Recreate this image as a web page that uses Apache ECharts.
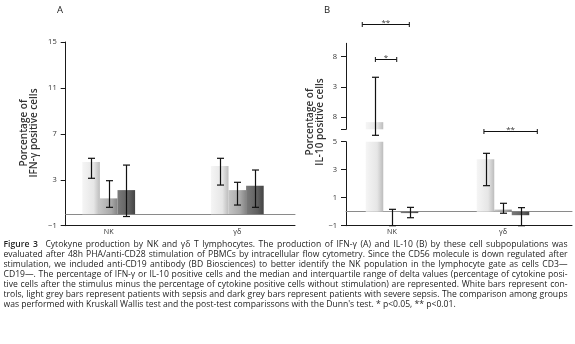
<!DOCTYPE html>
<html>
<head>
<meta charset="utf-8">
<script src="https://cdn.jsdelivr.net/npm/echarts@6.0.0/dist/echarts.min.js"></script>
<style>
  html, body { margin: 0; padding: 0; background: #fff; }
  #chart { position: absolute; left: 0; top: 0; width: 575px; height: 240px; }
  #caption { position: absolute; left: 3.5px; top: 239px; width: 564px;
    font-family: 'Open Sans', sans-serif; font-size: 8.6px; line-height: 10px; color: #1e1e1e; }
  #caption div { text-align: justify; text-align-last: justify; height: 10px; overflow: hidden; }
  #caption div.last { text-align-last: left; }
  #caption b { font-weight: 600; margin-right: 4px; }
</style>
</head>
<body>
<div id="chart"></div>
<div id="caption">
  <div><b>Figure 3</b> Cytokyne production by NK and γδ T lymphocytes. The production of IFN-γ (A) and IL-10 (B) by these cell subpopulations was</div>
  <div>evaluated after 48h PHA/anti-CD28 stimulation of PBMCs by intracellular flow cytometry. Since the CD56 molecule is down regulated after</div>
  <div>stimulation, we included anti-CD19 antibody (BD Biosciences) to better identify the NK population in the lymphocyte gate as cells CD3—</div>
  <div>CD19—. The percentage of IFN-γ or IL-10 positive cells and the median and interquartile range of delta values (percentage of cytokine posi-</div>
  <div>tive cells after the stimulus minus the percentage of cytokine positive cells without stimulation) are represented. White bars represent con-</div>
  <div>trols, light grey bars represent patients with sepsis and dark grey bars represent patients with severe sepsis. The comparison among groups</div>
  <div class="last">was performed with Kruskall Wallis test and the post-test comparissons with the Dunn's test. * p&lt;0.05, ** p&lt;0.01.</div>
</div>
<script>
// ---------- data ----------
const categories = ['NK', 'γδ'];

// Panel A: IFN-γ
const ifnControl = [4.55, 4.2];
const ifnSepsis = [1.38, 2.1];
const ifnSevere = [2.1, 2.48];
const ifnControlIQR = [[3.13, 4.87], [2.54, 4.87]];
const ifnSepsisIQR = [[0.6, 2.92], [0.8, 2.78]];
const ifnSevereIQR = [[-0.2, 4.28], [0.6, 3.85]];
const ifnTickValues = [-1, 3, 7, 11, 15];

// Panel B: IL-10 (broken axis)
const il10Control = [7.2, 3.75];
const il10Sepsis = [0.03, 0.15];
const il10Severe = [-0.1, -0.25];
const il10ControlIQR = [[5.03, 14.6], [1.86, 4.17]];
const il10SepsisIQR = [[-1.0, 0.17], [-0.11, 0.6]];
const il10SevereIQR = [[-0.43, 0.31], [-1.0, 0.29]];
const il10LowerTickValues = [-1, 1, 3, 5];
const il10UpperTickValues = [8, 13, 18];
const il10UpperTickLabels = ['8', '3', '8'];
const il10LowerRange = [-1, 5];
const il10UpperRange = [6.02, 20.2];

// significance brackets (from/to in bar slots relative to group centre)
const bracketCats = ['NK', 'NK', 'γδ'];
const bracketValues = [23.37, 17.56, 5.79];
const bracketFrom = [-1.7, -0.95, -1.09];
const bracketTo = [0.99, 0.27, 1.96];
const bracketText = ['**', '*', '**'];
const bracketSegment = ['upper', 'upper', 'lower'];

// ---------- styles ----------
const FONT = "'Open Sans', sans-serif";
const BW_A = 17.6, BW_B = 17.5;
function grad(stops) {
  return new echarts.graphic.LinearGradient(0, 0, 1, 0,
    stops.map((c, i) => ({ offset: [0, 0.65, 1][i], color: c })));
}
const colControl = grad(['#f5f5f5', '#e6e6e6', '#bcbcbc']);
const colSepsis = grad(['#c4c4c4', '#a9a9a9', '#858585']);
const colSevere = grad(['#7a7a7a', '#5f5f5f', '#434343']);
const minus = v => String(v).replace('-', '\u2212');

const chart = echarts.init(document.getElementById('chart'));

function frameX(gridIndex, showLine) {
  return { type: 'value', gridIndex, min: 0, max: 1, show: showLine,
    axisLine: { show: true, onZero: false, lineStyle: { color: '#1a1a1a', width: 1 } },
    axisTick: { show: false }, axisLabel: { show: false }, splitLine: { show: false } };
}
function zeroX(gridIndex) {
  return { type: 'value', gridIndex, min: 0, max: 1, position: 'bottom',
    axisLine: { show: true, onZero: true, lineStyle: { color: '#8a8a8a', width: 1 } },
    axisTick: { show: false }, axisLabel: { show: false }, splitLine: { show: false } };
}
function dataX(gridIndex, showLabels) {
  return { type: 'category', gridIndex, data: categories, show: showLabels,
    axisLine: { show: false }, axisTick: { show: false },
    axisLabel: { show: true, margin: 3, fontSize: 7.2, color: '#333', fontFamily: FONT },
    splitLine: { show: false } };
}
function frameY(gridIndex, range, tickVals, labelVals, fmt) {
  return { type: 'value', gridIndex, min: range[0], max: range[1],
    axisLine: { show: true, onZero: false, lineStyle: { color: '#1a1a1a', width: 1 } },
    axisTick: { show: true, length: 5, customValues: tickVals, lineStyle: { color: '#1a1a1a' } },
    axisLabel: { show: true, margin: 9, fontSize: 7.5, color: '#333', fontFamily: FONT,
      customValues: labelVals, formatter: fmt },
    splitLine: { show: false } };
}
function hiddenY(gridIndex, range) {
  return { type: 'value', gridIndex, min: range[0], max: range[1], show: false, splitLine: { show: false } };
}
function bars(values, color, xi, yi, bw) {
  return { type: 'bar', xAxisIndex: xi, yAxisIndex: yi, data: values, barWidth: bw, barGap: '0%',
    clip: true, itemStyle: { color }, silent: true, z: 2 };
}
function whiskers(iqr, slot, xi, yi, bw, keep) {
  const data = [];
  iqr.forEach((r, i) => { if (keep(r)) data.push([categories[i], r[0], r[1]]); });
  return { type: 'custom', xAxisIndex: xi, yAxisIndex: yi, data, z: 5, clip: false, silent: true,
    renderItem: (params, api) => {
      const c = api.value(0);
      const x = Math.round(api.coord([c, 0])[0] + slot * bw) + 0.5;
      const y1 = api.coord([c, api.value(1)])[1];
      const y2 = api.coord([c, api.value(2)])[1];
      const st = { stroke: '#111', lineWidth: 1.2 };
      return { type: 'group', children: [
        { type: 'line', shape: { x1: x, y1: y1, x2: x, y2: y2 }, style: st },
        { type: 'line', shape: { x1: x - 3.5, y1: y1, x2: x + 3.5, y2: y1 }, style: st },
        { type: 'line', shape: { x1: x - 3.5, y1: y2, x2: x + 3.5, y2: y2 }, style: st }
      ] };
    } };
}
function bracketSeries(seg, xi, yi) {
  const idx = [];
  bracketSegment.forEach((s, i) => { if (s === seg) idx.push(i); });
  return { type: 'custom', xAxisIndex: xi, yAxisIndex: yi, z: 6, clip: false, silent: true,
    data: idx.map(i => [bracketCats[i], bracketValues[i], bracketFrom[i], bracketTo[i]]),
    renderItem: (params, api) => {
      const k = idx[params.dataIndex];
      const c = api.value(0);
      const p = api.coord([c, api.value(1)]);
      const y = Math.round(p[1]) + 0.5;
      const x1 = p[0] + api.value(2) * BW_B, x2 = p[0] + api.value(3) * BW_B;
      const st = { stroke: '#111', lineWidth: 1 };
      return { type: 'group', children: [
        { type: 'line', shape: { x1, y1: y, x2, y2: y }, style: st },
        { type: 'line', shape: { x1, y1: y - 2.5, x2: x1, y2: y + 2.5 }, style: st },
        { type: 'line', shape: { x1: x2, y1: y - 2.5, x2: x2, y2: y + 2.5 }, style: st },
        { type: 'text', x: (x1 + x2) / 2, y: y + 2, style: { text: bracketText[k], fill: '#333',
          font: '8px ' + FONT, align: 'center', verticalAlign: 'bottom' } }
      ] };
    } };
}

const aTop = 42, aH = 183.7;
const bLowTop = 141.7, bLowH = 84, bUpTop = 43.3, bUpH = 86;

const option = {
  animation: false,
  grid: [
    { left: 65.7, top: aTop, width: 229.3, height: aH, outerBoundsMode: 'none' },
    { left: 44.4, top: aTop, width: 257.2, height: aH, outerBoundsMode: 'none' },
    { left: 346, top: bLowTop, width: 226, height: bLowH, outerBoundsMode: 'none' },
    { left: 336.5, top: bLowTop, width: 222, height: bLowH, outerBoundsMode: 'none' },
    { left: 346, top: bUpTop, width: 226, height: bUpH, outerBoundsMode: 'none' },
    { left: 336.5, top: bUpTop, width: 222, height: bUpH, outerBoundsMode: 'none' }
  ],
  xAxis: [
    frameX(0, true), zeroX(0), dataX(1, true),
    frameX(2, true), zeroX(2), dataX(3, true),
    frameX(4, false), dataX(5, false)
  ],
  yAxis: [
    frameY(0, [ifnTickValues[0], ifnTickValues[ifnTickValues.length - 1]], ifnTickValues, ifnTickValues, minus),
    hiddenY(1, [ifnTickValues[0], ifnTickValues[ifnTickValues.length - 1]]),
    frameY(2, il10LowerRange, il10LowerTickValues, il10LowerTickValues, minus),
    hiddenY(3, il10LowerRange),
    frameY(4, il10UpperRange, [il10UpperRange[0]].concat(il10UpperTickValues), il10UpperTickValues,
      v => { const i = il10UpperTickValues.indexOf(v); return i >= 0 ? il10UpperTickLabels[i] : ''; }),
    hiddenY(5, il10UpperRange)
  ],
  series: [
    bars(ifnControl, colControl, 2, 1, BW_A),
    bars(ifnSepsis, colSepsis, 2, 1, BW_A),
    bars(ifnSevere, colSevere, 2, 1, BW_A),
    whiskers(ifnControlIQR, -1, 2, 1, BW_A, () => true),
    whiskers(ifnSepsisIQR, 0, 2, 1, BW_A, () => true),
    whiskers(ifnSevereIQR, 1, 2, 1, BW_A, () => true),

    bars(il10Control, colControl, 5, 3, BW_B),
    bars(il10Sepsis, colSepsis, 5, 3, BW_B),
    bars(il10Severe, colSevere, 5, 3, BW_B),
    bars(il10Control, colControl, 7, 5, BW_B),
    bars(il10Sepsis, colSepsis, 7, 5, BW_B),
    bars(il10Severe, colSevere, 7, 5, BW_B),
    whiskers(il10ControlIQR, -1, 5, 3, BW_B, r => r[1] <= il10LowerRange[1]),
    whiskers(il10SepsisIQR, 0, 5, 3, BW_B, r => r[1] <= il10LowerRange[1]),
    whiskers(il10SevereIQR, 1, 5, 3, BW_B, r => r[1] <= il10LowerRange[1]),
    whiskers(il10ControlIQR, -1, 7, 5, BW_B, r => r[1] > il10LowerRange[1]),
    whiskers(il10SepsisIQR, 0, 7, 5, BW_B, r => r[1] > il10LowerRange[1]),
    whiskers(il10SevereIQR, 1, 7, 5, BW_B, r => r[1] > il10LowerRange[1]),
    bracketSeries('upper', 7, 5),
    bracketSeries('lower', 5, 3)
  ],
  graphic: [
    { type: 'text', x: 60, y: 10, style: { text: 'A', font: '9.5px ' + FONT, fill: '#222', align: 'center', verticalAlign: 'middle' } },
    { type: 'text', x: 327, y: 10, style: { text: 'B', font: '9.5px ' + FONT, fill: '#222', align: 'center', verticalAlign: 'middle' } },
    { type: 'text', x: 29.5, y: 133, rotation: Math.PI / 2,
      style: { text: 'Porcentage of\nIFN-γ positive cells', font: '600 10px ' + FONT, lineHeight: 10,
        fill: '#333', align: 'center', verticalAlign: 'middle' } },
    { type: 'text', x: 315, y: 122, rotation: Math.PI / 2,
      style: { text: 'Porcentage of\nIL-10 positive cells', font: '600 10px ' + FONT, lineHeight: 10,
        fill: '#333', align: 'center', verticalAlign: 'middle' } }
  ]
};
chart.setOption(option);
</script>
</body>
</html>
